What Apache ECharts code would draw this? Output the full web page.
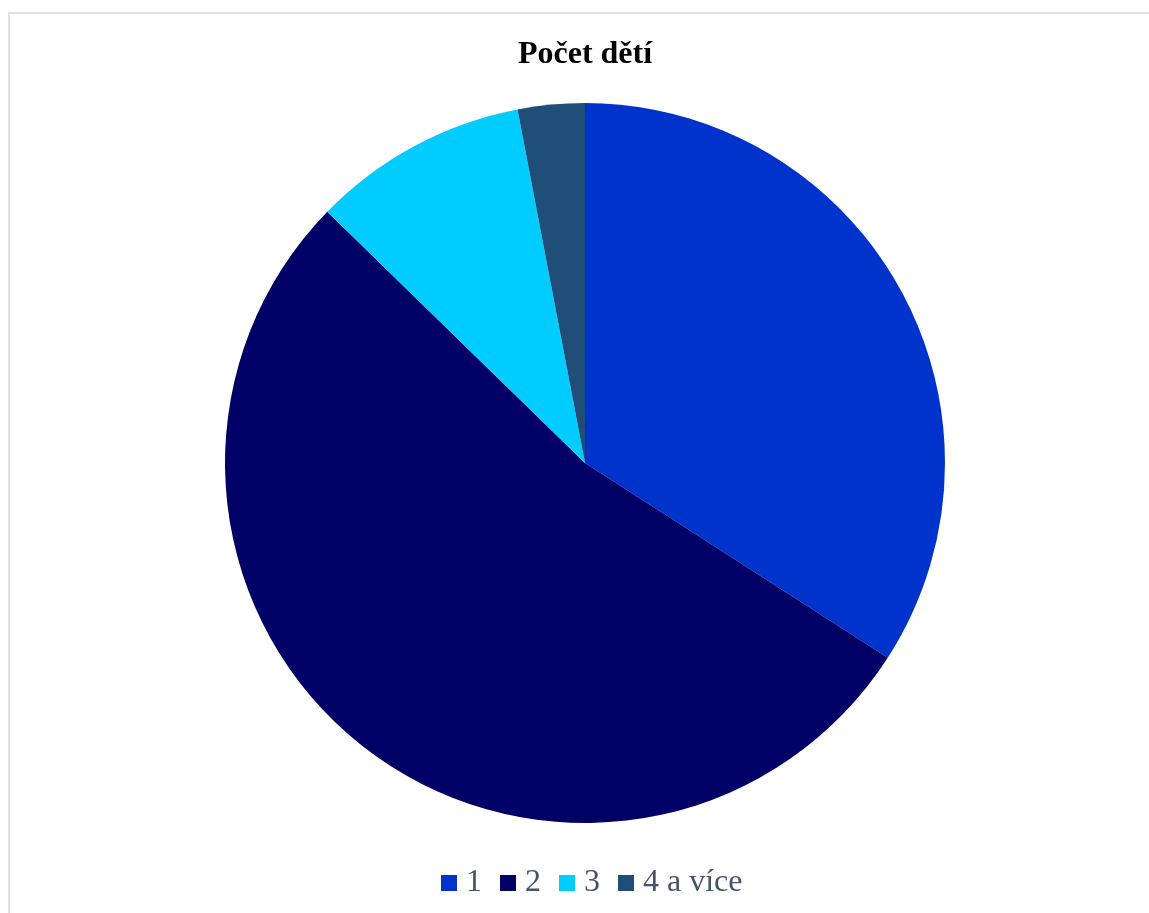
<!DOCTYPE html>
<html>
<head>
<meta charset="utf-8">
<script src="https://cdn.jsdelivr.net/npm/echarts@6/dist/echarts.min.js"></script>
<style>
html,body{margin:0;padding:0;background:#fff;}
#frame{position:absolute;left:8px;top:12px;right:0;bottom:0;border-left:2px solid #dde2e8;border-top:2px solid #dde2e8;pointer-events:none;}
#chart{position:absolute;left:0;top:0;width:1149px;height:913px;}
</style>
</head>
<body>
<div id="chart"></div>
<div id="frame"></div>
<script>
const titleText = 'Počet dětí';
const categories = ['1', '2', '3', '4 a více'];
const values = [34.1, 53.2, 9.7, 3.0];
const colors = ['#0033CC', '#000066', '#00CCFF', '#1F4E79'];

const chart = echarts.init(document.getElementById('chart'), null, {renderer: 'canvas'});
chart.setOption({
  animation: false,
  backgroundColor: 'transparent',
  title: {
    text: titleText,
    left: 580,
    textAlign: 'center',
    top: 34,
    textStyle: {fontFamily: 'Liberation Serif', fontWeight: 'bold', fontSize: 32, color: '#000'}
  },
  legend: {
    data: categories,
    left: 436,
    top: 862,
    icon: 'rect',
    itemWidth: 16,
    itemHeight: 16,
    itemGap: 18,
    textStyle: {fontFamily: 'Liberation Serif', fontSize: 32, color: '#44546A', padding: [0,0,0,4]}
  },
  series: [{
    type: 'pie',
    center: [585, 463],
    radius: [0, 360],
    startAngle: 90,
    clockwise: true,
    label: {show: false},
    labelLine: {show: false},
    itemStyle: {borderWidth: 0},
    emphasis: {disabled: true},
    data: categories.map((c, i) => ({name: c, value: values[i], itemStyle: {color: colors[i]}}))
  }]
});
</script>
</body>
</html>
